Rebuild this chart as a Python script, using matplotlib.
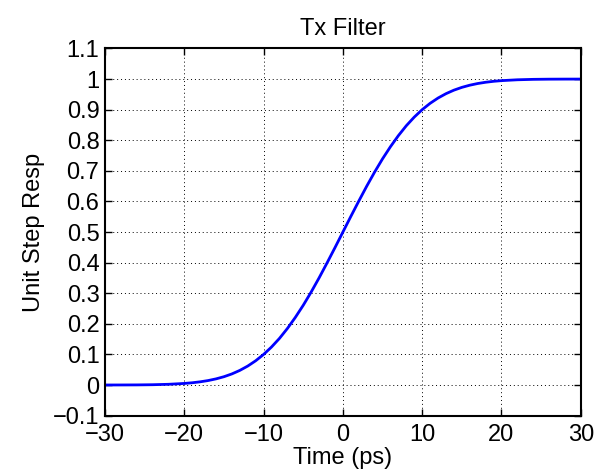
import matplotlib
matplotlib.use('Agg')
import matplotlib.pyplot as plt

# time in ps and unit step response
time_ps = [-30, -28, -26, -24, -22, -20, -19, -18, -17, -16, -15, -14, -13, -12, -11,
           -10, -9, -8, -7, -6, -5, -4, -3, -2, -1, 0,
           1, 2, 3, 4, 5, 6, 7, 8, 9, 10,
           11, 12, 13, 14, 15, 16, 17, 18, 19, 20, 22, 24, 26, 28, 30]
step_resp = [0.0001, 0.0002, 0.0004, 0.001, 0.0024, 0.0052, 0.0074, 0.0105, 0.0146, 0.0201,
             0.0272, 0.0363, 0.0478, 0.0620, 0.0793,
             0.100, 0.1243, 0.1524, 0.1848, 0.2210, 0.2607, 0.3040, 0.3503, 0.3990, 0.4490, 0.500,
             0.5510, 0.6010, 0.6497, 0.6960, 0.7393, 0.7790, 0.8152, 0.8476, 0.8757, 0.900,
             0.9207, 0.9380, 0.9522, 0.9637, 0.9728, 0.9799, 0.9854, 0.9895, 0.9926, 0.9948,
             0.9976, 0.999, 0.9996, 0.9998, 0.9999]

x_ticks = [-30, -20, -10, 0, 10, 20, 30]
y_ticks = [-0.1, 0, 0.1, 0.2, 0.3, 0.4, 0.5, 0.6, 0.7, 0.8, 0.9, 1, 1.1]
y_labels = ['\u22120.1', '0', '0.1', '0.2', '0.3', '0.4', '0.5', '0.6', '0.7', '0.8', '0.9', '1', '1.1']
x_labels = ['\u221230', '\u221220', '\u221210', '0', '10', '20', '30']

plt.rcParams['font.family'] = ['Liberation Sans', 'DejaVu Sans']
plt.rcParams['font.size'] = 17

fig = plt.figure(figsize=(6, 4.75), dpi=100)
ax = fig.add_axes([0.175, 0.125, 0.793, 0.773])

ax.plot(time_ps, step_resp, color='#0000ff', linewidth=2)

ax.set_xlim(-30, 30)
ax.set_ylim(-0.1, 1.1)
ax.set_xticks(x_ticks)
ax.set_xticklabels(x_labels)
ax.set_yticks(y_ticks)
ax.set_yticklabels(y_labels)
ax.tick_params(direction='in', top=True, right=True, length=5, width=1, pad=4)
ax.tick_params(axis='x', pad=6)
ax.grid(True, linestyle=(0, (1, 3)), color='black', linewidth=0.7)
for s in ax.spines.values():
    s.set_linewidth(1.5)

ax.set_xlabel('Time (ps)', labelpad=1)
ax.set_ylabel('Unit Step Resp', labelpad=6)
ax.set_title('Tx Filter', fontsize=17, pad=10)

fig.savefig('out.png', dpi=100)
